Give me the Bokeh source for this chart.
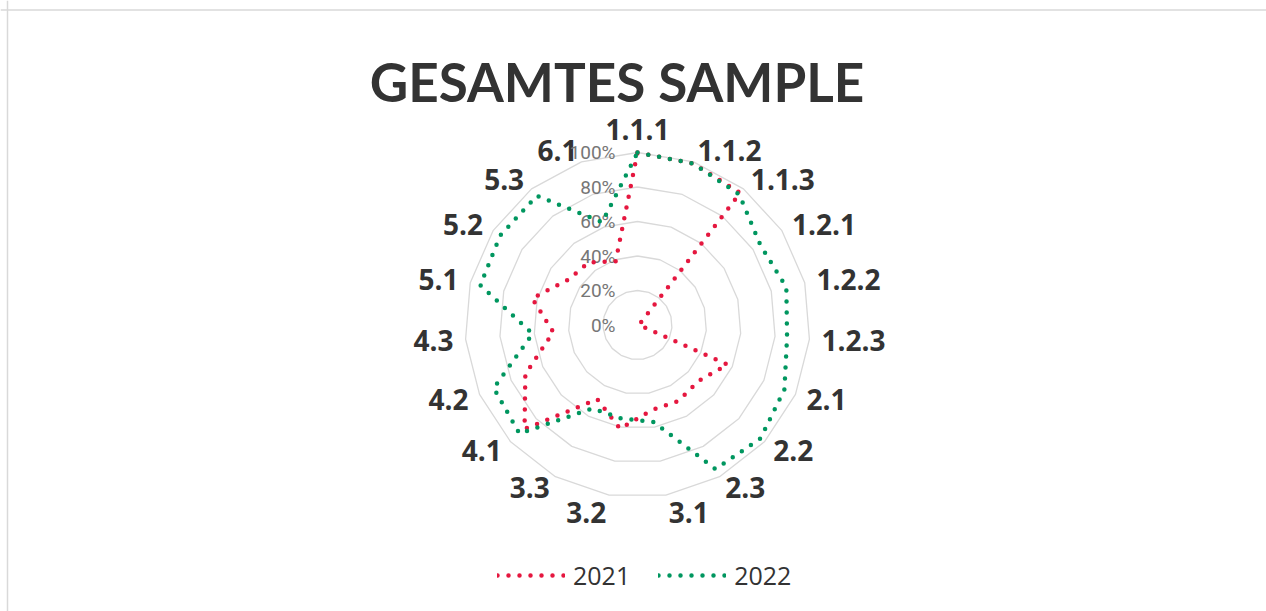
import numpy as np
from bokeh.plotting import figure
from bokeh.models import ColumnDataSource, Range1d, Legend, LegendItem, Span
from bokeh.core.properties import value
from bokeh.embed import file_html
from bokeh.resources import INLINE

# ---------------- data ----------------
categories = ["1.1.1", "1.1.2", "1.1.3", "1.2.1", "1.2.2", "1.2.3", "2.1", "2.2", "2.3",
              "3.1", "3.2", "3.3", "4.1", "4.2", "4.3", "5.1", "5.2", "5.3", "6.1"]
values_2021 = [1.00, 0.99, 0.97, 0.02, 0.02, 0.01, 0.57, 0.48, 0.50, 0.50,
               0.61, 0.49, 0.89, 0.71, 0.49, 0.63, 0.48, 0.46, 0.39]
values_2022 = [1.00, 0.99, 0.96, 0.85, 0.89, 0.87, 0.93, 0.97, 0.95, 0.57,
               0.55, 0.55, 0.93, 0.91, 0.61, 0.94, 0.95, 0.95, 0.63]
series_names = ["2021", "2022"]
tick_values = [0.0, 0.2, 0.4, 0.6, 0.8, 1.0]
tick_labels = ["0%", "20%", "40%", "60%", "80%", "100%"]
title_text = "GESAMTES SAMPLE"

# ---------------- layout ----------------
W, H = 1266, 611
CX, CY = 637.0, 324.5      # radar centre in figure pixels (from top-left)
RAD = 172.5                # pixels for 100 %
RED = "#E5173F"
GREEN = "#00965F"
GRID = "#D9D9D9"
DARK = "#333333"
GRAY = "#767676"

p = figure(width=W, height=H, output_backend="svg", toolbar_location=None,
           x_range=Range1d(-CX / RAD, (W - CX) / RAD),
           y_range=Range1d(-(H - CY) / RAD, CY / RAD),
           min_border=0, x_axis_location=None, y_axis_location=None)
p.grid.visible = False
p.outline_line_color = None
p.background_fill_color = "white"

N = len(categories)
theta = 2 * np.pi * np.arange(N) / N
s, c = np.sin(theta), np.cos(theta)

# chart-area border (top and left visible)
p.add_layout(Span(location=(CY - 9.5) / RAD, dimension="width", line_color=GRID, line_width=1.5))
p.add_layout(Span(location=(7 - CX) / RAD, dimension="height", line_color=GRID, line_width=1.5))

# polygon grid rings
ring_xs, ring_ys = [], []
for t in tick_values[1:]:
    ring_xs.append(list(np.append(t * s, t * s[0])))
    ring_ys.append(list(np.append(t * c, t * c[0])))
p.multi_line(ring_xs, ring_ys, line_color=GRID, line_width=1.3)

# category labels
lab_r = np.where((np.abs(s) < 0.2) & (c < 0), 1.10, 1.07)
align = ["left" if v > 0.05 else ("right" if v < -0.05 else "center") for v in s]
base = ["bottom" if (abs(a) < 0.05 and b > 0) else "middle" for a, b in zip(s, c)]
lab_src = ColumnDataSource(dict(x=lab_r * s, y=lab_r * c, text=categories, align=align, base=base))
p.text(x="x", y="y", text="text", source=lab_src, text_align="align", text_baseline="base",
       text_font=value("Open Sans"), text_font_style="bold", text_font_size="28px",
       text_color=DARK)

# value axis labels (drawn above category labels)
p.text(x=[-22 / RAD] * len(tick_values), y=tick_values, text=tick_labels,
       text_font=value("Roboto"), text_font_size="19px", text_color=GRAY,
       text_align="right", text_baseline="middle")

# series
renderers = []
for vals, col in ((values_2021, RED), (values_2022, GREEN)):
    v = np.array(vals)
    xs = np.append(v * s, v[0] * s[0])
    ys = np.append(v * c, v[0] * c[0])
    r = p.line(xs, ys, line_color=col, line_width=4.5, line_dash="0 11", line_cap="round",
               line_join="round")
    renderers.append(r)

# title
p.text(x=[(616.5 - CX) / RAD], y=[(CY - 80.7) / RAD], text=[title_text],
       text_font=value("Lato"), text_font_style="bold", text_font_size="53px",
       text_color=DARK, text_align="center", text_baseline="alphabetic")

legend = Legend(items=[LegendItem(label=series_names[0], renderers=[renderers[0]]),
                       LegendItem(label=series_names[1], renderers=[renderers[1]])],
                orientation="horizontal", location=(497, 19),
                glyph_width=68, glyph_height=26, label_standoff=8, spacing=28,
                padding=0, margin=0, border_line_color=None, background_fill_alpha=0,
                label_text_font="Open Sans", label_text_font_size="25px",
                label_text_color=DARK, label_height=26)
p.add_layout(legend, "center")

open("out.html", "w").write(file_html(p, INLINE))
